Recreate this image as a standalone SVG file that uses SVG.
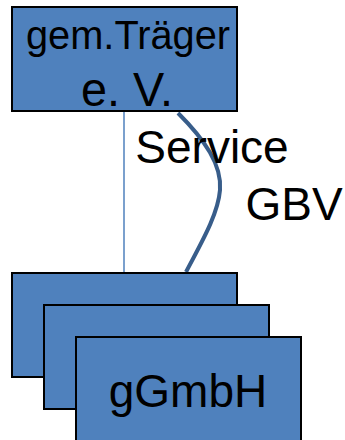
<svg xmlns="http://www.w3.org/2000/svg" width="345" height="440" viewBox="0 0 345 440">
<style>
.box{fill:#4F81BD;stroke:#000;stroke-width:2}
.t{font-family:"Liberation Sans",Arial,sans-serif;fill:#000;text-anchor:middle}
</style>
<rect width="345" height="440" fill="#fff"/>
<g id="connectors">
<line x1="124" y1="112" x2="124" y2="272" stroke="#4F81BD" stroke-width="1.5"/>
<path d="M178,113 C205,140 222,165 220,190 C218,215 200,245 186,272" fill="none" stroke="#385D8A" stroke-width="4"/>
</g>
<g id="traeger">
<rect class="box" x="12" y="7" width="225" height="104"/>
<text class="t" x="128" y="49" font-size="40" textLength="204" lengthAdjust="spacingAndGlyphs">gem.Träger</text>
<text class="t" x="127" y="106" font-size="49" textLength="92" lengthAdjust="spacingAndGlyphs">e. V.</text>
</g>
<g id="labels">
<text class="t" x="212" y="163" font-size="46">Service</text>
<text class="t" x="294" y="220" font-size="46">GBV</text>
</g>
<g id="gmbh1"><rect class="box" x="12" y="273" width="225" height="104"/></g>
<g id="gmbh2"><rect class="box" x="44" y="305" width="225" height="104"/></g>
<g id="gmbh3">
<rect class="box" x="76" y="337" width="225" height="110"/>
<text class="t" x="188" y="407" font-size="46">gGmbH</text>
</g>
</svg>
